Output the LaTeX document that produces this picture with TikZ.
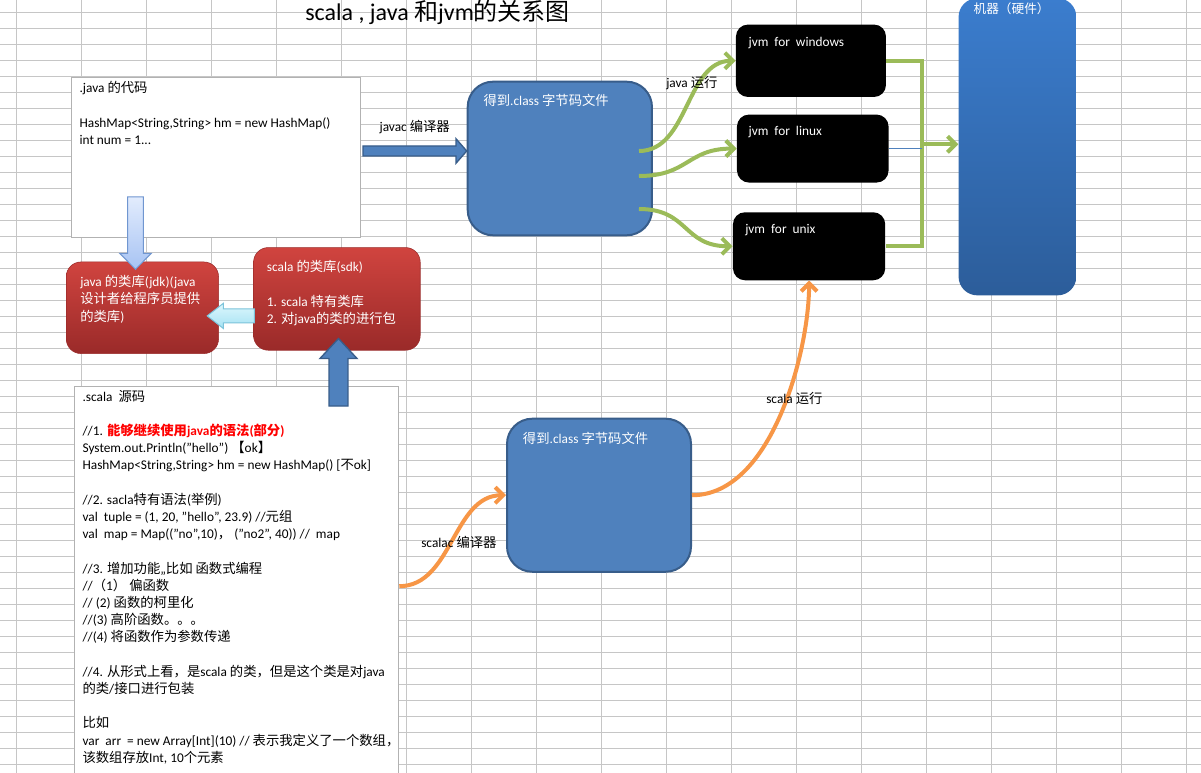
\documentclass[tikz,border=0pt]{standalone}
\usepackage{fontspec}
\setmainfont{Carlito}
\newfontfamily\cjkfont{Noto Sans CJK SC}[NFSSFamily=cjkfam]
\usetikzlibrary{arrows.meta,calc,positioning}

% CJK runs are set in the CJK family
\XeTeXinterchartokenstate=1
\newXeTeXintercharclass\cjkclass
\newcount\cjkcode
\cjkcode="3000
\loop\XeTeXcharclass\cjkcode=\cjkclass
\ifnum\cjkcode<"9FFF \advance\cjkcode by 1 \repeat
\cjkcode="FF00
\loop\XeTeXcharclass\cjkcode=\cjkclass
\ifnum\cjkcode<"FFEF \advance\cjkcode by 1 \repeat
\XeTeXinterchartoks 0 \cjkclass = {\fontfamily{cjkfam}\selectfont}
\XeTeXinterchartoks 4095 \cjkclass = {\fontfamily{cjkfam}\selectfont}
\XeTeXinterchartoks \cjkclass 0 = {\rmfamily}
\XeTeXinterchartoks \cjkclass 4095 = {\rmfamily}

\definecolor{classfill}{HTML}{4F81BD}
\definecolor{classedge}{HTML}{385D8A}
\definecolor{libtop}{HTML}{D0443F}
\definecolor{libbot}{HTML}{9A2A29}
\definecolor{hwtop}{HTML}{3B7DCE}
\definecolor{hwbot}{HTML}{2C5D9A}
\definecolor{rungreen}{HTML}{9BBB59}
\definecolor{runorange}{HTML}{F79646}
\definecolor{jdktop}{HTML}{E2ECFD}
\definecolor{jdkbot}{HTML}{A7C3F3}
\definecolor{jdkedge}{HTML}{7096D0}
\definecolor{sdktop}{HTML}{DDF7FD}
\definecolor{sdkbot}{HTML}{A5E2F3}
\definecolor{sdkedge}{HTML}{7CC3DA}

\tikzset{
  gridline/.style={gray!45, line width=0.75pt},
  codebox/.style={draw=gray!60, fill=white, line width=0.75pt, anchor=north west, inner sep=0pt},
  libbox/.style={rounded corners=11pt, top color=libtop, bottom color=libbot, draw=libbot, anchor=north west, inner sep=0pt},
  classbox/.style={rounded corners=19pt, fill=classfill, draw=classedge, line width=1.5pt, anchor=north west, inner sep=0pt},
  jvmbox/.style={rounded corners=9pt, fill=black, anchor=north west, inner sep=0pt},
  hwbox/.style={rounded corners=14pt, top color=hwtop, bottom color=hwbot, anchor=north west, inner sep=0pt},
  txt/.style={anchor=base west, align=left, inner sep=0pt, font=\fontsize{10}{12.9}\selectfont},
  wtxt/.style={txt, text=white},
  runarrow/.style={line width=3pt, -{Straight Barb[length=6pt,width=12pt]}},
  javarun/.style={rungreen},
  scalarun/.style={runorange},
  jvmline/.style={rungreen, line width=3pt},
  linuxline/.style={classfill, line width=0.75pt},
  blockarrow/.style n args={3}{to path={
    let \p1=($(\tikztotarget)-(\tikztostart)$), \n1={atan2(\y1,\x1)}, \n2={veclen(\x1,\y1)-#3} in
    ($(\tikztostart)+(\n1+90:#1)$)
    -- ($(\tikztostart)+(\n1:\n2)+(\n1+90:#1)$)
    -- ($(\tikztostart)+(\n1:\n2)+(\n1+90:#2)$)
    -- (\tikztotarget)
    -- ($(\tikztostart)+(\n1:\n2)+(\n1-90:#2)$)
    -- ($(\tikztostart)+(\n1:\n2)+(\n1-90:#1)$)
    -- ($(\tikztostart)+(\n1-90:#1)$)
    -- cycle}},
  classarrow/.style={fill=classfill, draw=classedge, line width=1pt},
  jdkarrow/.style={top color=jdktop, bottom color=jdkbot, draw=jdkedge, line width=0.75pt},
  sdkarrow/.style={top color=sdktop, bottom color=sdkbot, draw=sdkedge, line width=0.75pt}
}

\begin{document}
\begin{tikzpicture}[x=0.75pt, y=-0.75pt]
\useasboundingbox (0,0) rectangle (1201,773);
\clip (0,0) rectangle (1201,773);

% Sheet
\fill[white] (0,0) rectangle (1201,773);
\foreach \gx in {0,...,18}
  \draw[gridline] ({16.7+65*\gx},0) -- ({16.7+65*\gx},773);
\foreach \gy in {0,...,47}
  \draw[gridline] (0,{12.5+16*\gy}) -- (1201,{12.5+16*\gy});

% Title
\node[txt, font=\fontsize{18}{21}\selectfont] (title) at (305,21) {scala , java 和jvm的关系图};

% Source code boxes
\node[codebox, minimum width=217pt, minimum height=120pt] (javabox) at (70.7,76.7) {};
\node[codebox, minimum width=243pt, minimum height=300pt] (scalabox) at (74.3,385.7) {};

% Class files, jvms, machine
\node[classbox, minimum width=138.2pt, minimum height=115.2pt] (classtop) at (466.7,80.7) {};
\node[classbox, minimum width=138pt, minimum height=114.8pt] (classbot) at (506,417.7) {};
\node[jvmbox, minimum width=112.5pt, minimum height=54.3pt] (jvmwin) at (735.7,24.3) {};
\node[jvmbox, minimum width=113.7pt, minimum height=51pt] (jvmlinux) at (736.7,114.3) {};
\node[jvmbox, minimum width=114.2pt, minimum height=51pt] (jvmunix) at (732.7,212) {};
\node[hwbox, minimum width=88.3pt, minimum height=222.8pt] (machine) at (958.3,-2) {};

% Libraries
\node[libbox, minimum width=114.2pt, minimum height=68.7pt] (javalib) at (66,261.7) {};
\node[libbox, minimum width=125pt, minimum height=77pt] (scalalib) at (253.3,247.3) {};

% Block arrows
\coordinate (javac tail) at ($(javabox.east)+(2,-6.2)$);
\coordinate (javac head) at (javac tail -| classtop.west);
\draw[blockarrow={3.75pt}{9.15pt}{8pt}, classarrow] (javac tail) to (javac head);
\coordinate (jdk tail) at ($(javabox.south west)+(64.8,-40.7)$);
\coordinate (jdk head) at ($(javalib.north west)+(69.5,7.6)$);
\draw[blockarrow={5.85pt}{11.85pt}{12pt}, jdkarrow] (jdk tail) to (jdk head);
\coordinate (sdk tail) at ($(scalalib.west)+(1,17)$);
\coordinate (sdk head) at ($(sdk tail -| javalib.east)+(-11.6,0)$);
\draw[blockarrow={5.25pt}{9.5pt}{12.2pt}, sdkarrow] (sdk tail) to (sdk head);
\coordinate (wrap tail) at ($(scalabox.north east)+(-60.8,20.3)$);
\coordinate (wrap head) at ($(wrap tail |- scalalib.south)+(0,-12)$);
\draw[blockarrow={7.1pt}{13.9pt}{15pt}, classarrow] (wrap tail) to (wrap head);

% java run
\draw[runarrow, javarun] ($(classtop.east)+(-14,-7.5)$) .. controls +(50,0) and +(-50,0) .. (jvmwin.west);
\draw[runarrow, javarun] ($(classtop.east)+(-14,17.5)$) .. controls +(50,0) and +(-50,0) .. (jvmlinux.west);
\draw[runarrow, javarun] ($(classtop.east)+(-14,50.5)$) .. controls +(50,0) and +(-50,0) .. (jvmunix.west);
\draw[jvmline] (jvmwin.east) -- ++(36,0) |- (jvmunix.east);
\coordinate (jvmjoin) at ($(jvmwin.east)+(36,83.5)$);
\draw[linuxline] (jvmlinux.east) -- (jvmlinux.east -| jvmjoin);
\draw[runarrow, javarun] (jvmjoin) -- (jvmjoin -| machine.west);

% scala compile and run
\draw[runarrow, scalarun] (scalabox.east) .. controls +(53,0) and +(-53,0) .. (classbot.west);
\draw[runarrow, scalarun] (classbot.east) .. controls +(80,0) and +(0,70) .. (jvmunix.south);

% Texts (placed at the baseline of their last line)
\node[txt] (javatext) at ($(javabox.north west)+(8.6,67.9)$) {.java 的代码\\ \\HashMap<String,String> hm = new HashMap()\\int num = 1...};
\node[txt] (scalatext) at ($(scalabox.north west)+(8,376.5)$) {.scala\ \ 源码\\ \\
//1. {\color{red}\bfseries 能够继续使用java的语法(部分)}\\
System.out.Println("hello") 【ok】\\
HashMap<String,String> hm = new HashMap() [不ok]\\ \\
//2. sacla特有语法(举例)\\
val\ \ tuple = (1, 20, "hello", 23.9) //元组\\
val\ \ map = Map(("no",10)，\ ("no2", 40)) //\ \ map\\ \\
//3. 增加功能,,比如 函数式编程\\
//（1） 偏函数\\
// (2) 函数的柯里化\\
//(3) 高阶函数。。。\\
//(4) 将函数作为参数传递\\ \\
//4. 从形式上看，是scala 的类，但是这个类是对java\\
的类/接口进行包装\\ \\
比如\\
var\ \ arr\ \ = new Array[Int](10) // 表示我定义了一个数组，\\
该数组存放Int, 10个元素};
\node[wtxt] (javalibtext) at ($(javalib.north west)+(14,59.4)$) {java 的类库(jdk)(java\\设计者给程序员提供\\的类库)};
\node[wtxt] (scalalibtext) at ($(scalalib.north west)+(13.4,76)$) {scala 的类库(sdk)\\ \\1. scala 特有类库\\2. 对java的类的进行包};
\node[wtxt] (classtoptext) at ($(classtop.north west)+(16.6,25.3)$) {得到.class 字节码文件};
\node[wtxt] (classbottext) at ($(classbot.north west)+(16.7,25.3)$) {得到.class 字节码文件};
\node[wtxt] (jvmwintext) at ($(jvmwin.north west)+(12.6,22.7)$) {jvm\ \ for\ \ windows};
\node[wtxt] (jvmlinuxtext) at ($(jvmlinux.north west)+(11.6,21.7)$) {jvm\ \ for\ \ linux};
\node[wtxt] (jvmunixtext) at ($(jvmunix.north west)+(12.3,22)$) {jvm\ \ for\ \ unix};
\node[wtxt, font=\fontsize{9.5}{12}\selectfont] (machinetext) at ($(machine.north west)+(15,16)$) {机器（硬件）};

% Connector labels
\node[txt] (javaclabel) at (379.3,132) {javac 编译器};
\node[txt] (javarunlabel) at (666,88) {java 运行};
\node[txt] (scalarunlabel) at (766,403) {scala 运行};
\node[txt] (scalaclabel) at (421,547.5) {scalac 编译器};
\end{tikzpicture}
\end{document}
